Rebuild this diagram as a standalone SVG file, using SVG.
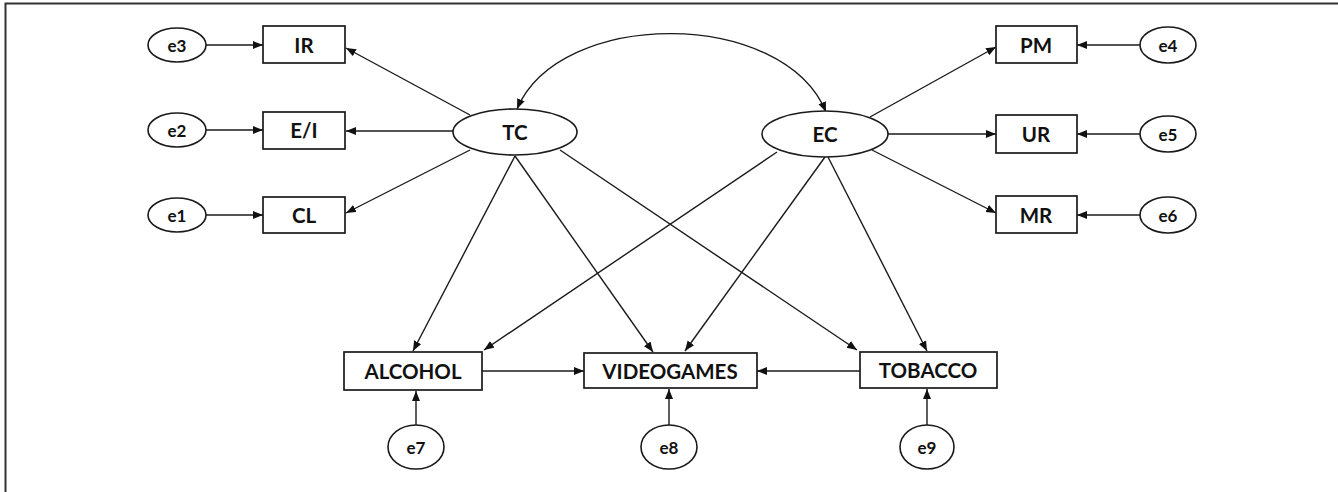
<svg xmlns="http://www.w3.org/2000/svg" width="1338" height="492" viewBox="0 0 1338 492">
  <style>
    .box { fill: #fff; stroke: #1a1a1a; stroke-width: 1.7; }
    .lat { fill: #fff; stroke: #1a1a1a; stroke-width: 1.6; }
    .lbl { font-family: Lato, "Liberation Sans", sans-serif; font-weight: bold; font-size: 20.5px; fill: #111; text-anchor: middle; dominant-baseline: central; }
    .elbl { font-family: Lato, "Liberation Sans", sans-serif; font-weight: bold; font-size: 17px; fill: #111; text-anchor: middle; dominant-baseline: central; }
    .edge { fill: none; stroke: #1a1a1a; stroke-width: 1.4; marker-end: url(#arr); }
    .frame { fill: none; stroke: #333; stroke-width: 2; }
  </style>
  <defs>
    <marker id="arr" markerUnits="userSpaceOnUse" markerWidth="12" markerHeight="10" refX="10" refY="4" orient="auto-start-reverse">
      <path d="M0,0 L10,4 L0,8 Z" fill="#111"/>
    </marker>
  </defs>

  <rect width="1338" height="492" fill="#fff"/>
  <!-- page frame (left and top edges) -->
  <path class="frame" d="M5.5,492 V3.5 H1338"/>

  <!-- connectors -->
  <g id="connectors">
    <!-- covariance TC <-> EC -->
    <path class="edge" style="marker-start:url(#arr)" d="M517,109 C560,8 783,8 826,112"/>
    <!-- error terms to indicators -->
    <line class="edge" x1="206" y1="45" x2="263" y2="45"/>
    <line class="edge" x1="206" y1="130" x2="263" y2="130"/>
    <line class="edge" x1="206" y1="215" x2="263" y2="215"/>
    <line class="edge" x1="1140" y1="45" x2="1077" y2="45"/>
    <line class="edge" x1="1140" y1="134" x2="1077" y2="134"/>
    <line class="edge" x1="1140" y1="215" x2="1077" y2="215"/>
    <!-- TC loadings -->
    <line class="edge" x1="470" y1="115" x2="346" y2="48"/>
    <line class="edge" x1="453" y1="131" x2="346" y2="131"/>
    <line class="edge" x1="470" y1="150" x2="346" y2="213"/>
    <!-- EC loadings -->
    <line class="edge" x1="870" y1="117" x2="996" y2="47"/>
    <line class="edge" x1="888" y1="134" x2="996" y2="134"/>
    <line class="edge" x1="872" y1="150" x2="996" y2="213"/>
    <!-- structural paths -->
    <line class="edge" x1="515" y1="156" x2="413" y2="351"/>
    <line class="edge" x1="515" y1="156" x2="653" y2="352"/>
    <line class="edge" x1="560" y1="150" x2="857" y2="350"/>
    <line class="edge" x1="777" y1="152" x2="484" y2="350"/>
    <line class="edge" x1="825" y1="157" x2="685" y2="351"/>
    <line class="edge" x1="828" y1="157" x2="927" y2="351"/>
    <line class="edge" x1="482" y1="371" x2="584" y2="371"/>
    <line class="edge" x1="860" y1="371" x2="757" y2="371"/>
    <!-- residuals of outcomes -->
    <line class="edge" x1="416" y1="425" x2="416" y2="391"/>
    <line class="edge" x1="669" y1="425" x2="669" y2="389"/>
    <line class="edge" x1="927" y1="425" x2="927" y2="389"/>
  </g>

  <!-- latent factors -->
  <g id="TC"><ellipse class="lat" cx="515" cy="132" rx="62" ry="23"/><text class="lbl" x="515" y="132">TC</text></g>
  <g id="EC"><ellipse class="lat" cx="825" cy="134" rx="63" ry="23"/><text class="lbl" x="825" y="134">EC</text></g>

  <!-- TC indicators -->
  <g id="IR"><rect class="box" x="263" y="26" width="82" height="37"/><text class="lbl" x="304" y="45">IR</text></g>
  <g id="EI"><rect class="box" x="263" y="112" width="82" height="37"/><text class="lbl" x="304" y="130">E/I</text></g>
  <g id="CL"><rect class="box" x="263" y="197" width="82" height="36"/><text class="lbl" x="304" y="215">CL</text></g>

  <!-- EC indicators -->
  <g id="PM"><rect class="box" x="996" y="26" width="81" height="37"/><text class="lbl" x="1036" y="45">PM</text></g>
  <g id="UR"><rect class="box" x="996" y="115" width="81" height="38"/><text class="lbl" x="1036" y="134">UR</text></g>
  <g id="MR"><rect class="box" x="996" y="196" width="81" height="37"/><text class="lbl" x="1036" y="215">MR</text></g>

  <!-- error terms -->
  <g id="e3"><ellipse class="lat" cx="177" cy="45" rx="29" ry="17"/><text class="elbl" x="177" y="45">e3</text></g>
  <g id="e2"><ellipse class="lat" cx="177" cy="130" rx="29" ry="17"/><text class="elbl" x="177" y="130">e2</text></g>
  <g id="e1"><ellipse class="lat" cx="177" cy="215" rx="29" ry="17"/><text class="elbl" x="177" y="215">e1</text></g>
  <g id="e4"><ellipse class="lat" cx="1168" cy="45" rx="28" ry="18"/><text class="elbl" x="1168" y="45">e4</text></g>
  <g id="e5"><ellipse class="lat" cx="1168" cy="134" rx="28" ry="18"/><text class="elbl" x="1168" y="134">e5</text></g>
  <g id="e6"><ellipse class="lat" cx="1168" cy="215" rx="28" ry="18"/><text class="elbl" x="1168" y="215">e6</text></g>

  <!-- outcomes -->
  <g id="ALCOHOL"><rect class="box" x="344" y="352" width="138" height="38"/><text class="lbl" x="413" y="371">ALCOHOL</text></g>
  <g id="VIDEOGAMES"><rect class="box" x="584" y="353" width="173" height="35"/><text class="lbl" x="670" y="371">VIDEOGAMES</text></g>
  <g id="TOBACCO"><rect class="box" x="860" y="352" width="137" height="36"/><text class="lbl" x="928" y="370">TOBACCO</text></g>

  <g id="e7"><ellipse class="lat" cx="416" cy="447" rx="28" ry="22"/><text class="elbl" x="416" y="447">e7</text></g>
  <g id="e8"><ellipse class="lat" cx="669" cy="447" rx="28" ry="22"/><text class="elbl" x="669" y="447">e8</text></g>
  <g id="e9"><ellipse class="lat" cx="927" cy="447" rx="27" ry="22"/><text class="elbl" x="927" y="447">e9</text></g>
</svg>
